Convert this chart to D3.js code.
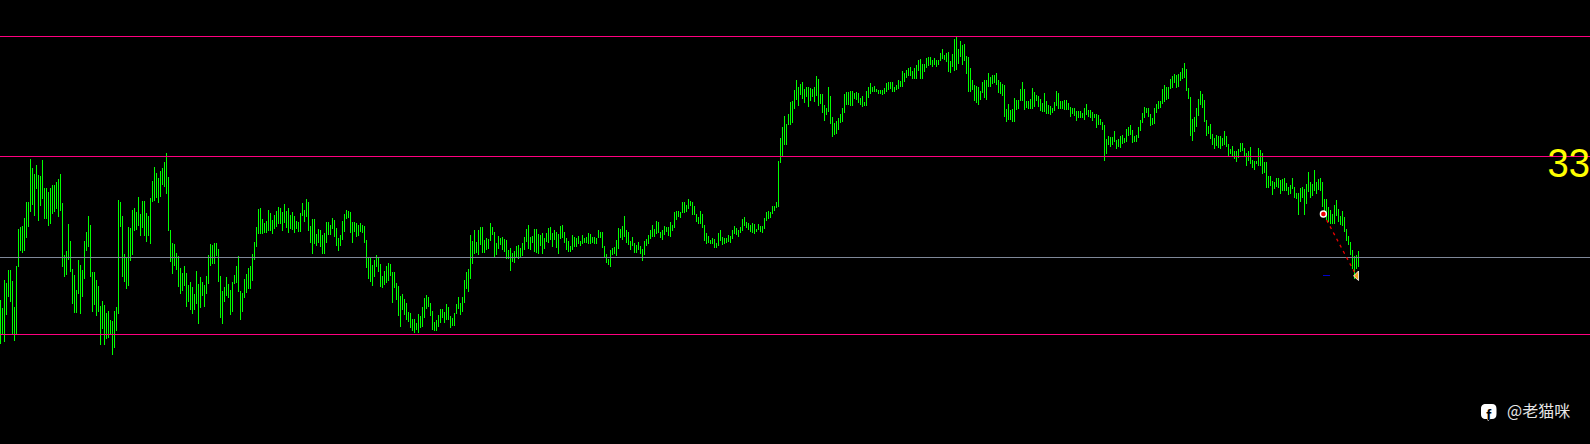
<!DOCTYPE html>
<html><head><meta charset="utf-8">
<style>html,body{margin:0;padding:0;background:#000;overflow:hidden}svg{display:block}</style>
<script src="https://cdn.jsdelivr.net/npm/d3@7/dist/d3.min.js"></script>
</head><body><div id="chart"></div>
<script>
const barHighs = [
144,136,164,161,174,174,163,137,178,215,
217,218,226,242,242,285,276,270,279,269,
268,284,256,256,252,256,259,259,262,265,
270,241,189,193,220,203,175,169,154,184,
179,174,203,212,228,219,172,172,164,158,
138,143,139,131,133,124,123,133,137,244,
242,228,190,187,217,216,234,236,232,247,
230,243,243,231,228,246,263,277,271,266,
273,276,282,291,267,214,201,200,191,188,
176,171,178,171,159,162,157,150,173,160,
167,162,159,168,189,200,199,201,201,195,
168,153,157,167,160,154,162,169,178,188,
153,151,165,170,176,178,190,202,217,235,
236,225,221,223,234,231,224,229,233,237,
236,232,240,233,236,229,232,228,223,222,
231,241,234,245,242,218,225,225,210,215,
214,209,211,222,222,219,226,224,216,206,
209,223,230,234,233,232,222,222,221,219,
221,219,218,204,187,187,179,184,189,187,
180,168,173,178,181,180,172,172,161,158,
148,150,145,141,132,131,125,125,121,130,
128,137,146,149,147,141,133,122,124,129,
135,135,132,140,137,128,126,131,140,147,
141,147,164,172,175,209,203,214,202,214,
217,217,204,206,205,221,217,212,201,208,
206,207,205,204,194,196,191,193,198,199,
196,201,207,215,219,207,208,215,215,210,
209,211,206,211,216,217,211,214,212,210,
218,219,212,206,203,198,209,207,206,208,
203,209,206,207,211,210,207,207,206,214,
212,212,198,190,185,194,196,197,204,216,
215,218,228,214,212,203,207,201,199,202,
198,195,203,205,209,214,219,215,223,222,
212,214,218,217,217,222,219,232,233,233,
232,242,242,239,245,243,242,238,230,227,
233,230,219,211,208,204,206,205,201,211,
214,207,206,206,209,208,214,218,216,214,
217,225,227,222,221,219,221,220,215,220,
218,218,226,232,233,232,238,238,242,283,
306,317,328,320,330,342,343,354,364,357,
360,362,355,357,357,356,355,357,368,365,
350,350,339,336,357,348,327,321,323,326,
330,336,350,352,352,353,353,351,352,351,
346,348,342,353,357,361,357,358,355,354,
354,354,356,361,362,362,362,357,359,364,
363,373,371,374,376,377,373,376,379,384,
385,380,380,386,387,387,384,386,384,384,
391,395,389,391,392,383,390,405,408,395,
403,399,400,388,387,376,364,359,358,357,
353,362,364,364,371,367,369,369,371,364,
362,360,359,335,340,334,335,346,344,344,
355,362,355,343,343,345,356,352,349,348,
345,341,351,343,339,338,336,342,353,351,
343,343,344,344,341,337,336,336,333,333,
333,331,336,340,334,334,332,330,330,329,
325,322,319,305,308,307,307,313,304,305,
308,309,306,315,317,319,314,308,309,317,
324,331,337,336,336,330,326,336,340,343,
343,355,359,357,357,365,368,370,369,370,
372,376,381,375,356,347,325,327,336,345,
353,350,344,324,318,320,310,306,309,308,
308,306,313,308,300,295,298,293,293,295,
301,301,296,291,293,297,284,283,283,296,
294,291,282,282,268,268,263,262,266,266,
264,265,266,261,257,259,266,257,251,251,
256,257,255,260,272,262,260,274,262,265,
266,262,245,245,237,234,230,239,244,235,
228,233,227,215,208,202,194,188,189,193];
const barLows = [
100,109,102,129,147,142,110,103,109,177,
193,191,193,206,217,232,239,228,255,223,
238,245,225,225,218,220,230,232,235,227,
233,177,167,169,184,172,140,131,131,150,
130,147,165,193,197,167,132,139,128,132,
99,115,99,105,106,109,89,96,113,130,
217,167,162,155,158,183,189,213,214,218,
208,216,208,202,208,200,242,243,246,241,
247,259,257,250,213,182,170,178,174,157,
150,153,158,137,142,134,130,134,140,120,
136,148,137,150,160,178,180,180,188,162,
126,120,142,148,146,129,132,160,161,152,
124,132,146,151,155,155,163,184,197,210,
210,210,211,211,213,213,210,215,217,220,
220,213,221,216,211,215,214,211,215,212,
212,228,222,227,213,201,190,200,198,201,
197,190,190,201,209,209,215,207,198,193,
198,204,212,225,226,211,201,212,207,208,
212,211,201,176,165,162,158,167,177,172,
157,156,159,161,163,168,141,156,144,128,
117,134,129,124,122,116,113,111,114,111,
116,117,126,135,137,128,114,113,113,117,
121,126,121,124,124,116,118,118,130,135,
129,132,141,155,152,165,180,190,191,189,
199,191,191,194,195,203,209,186,189,195,
199,194,192,185,185,173,182,181,186,185,
187,188,194,202,195,194,201,192,191,190,
198,190,195,202,201,204,197,204,196,190,
205,206,201,194,192,192,194,197,197,200,
198,200,201,201,200,200,201,200,200,206,
206,196,186,181,179,177,189,190,188,195,
206,204,207,201,199,194,198,191,191,194,
190,183,189,198,200,205,207,207,210,211,
206,204,209,212,208,207,213,216,224,227,
226,231,231,232,235,238,229,229,222,220,
220,216,203,200,201,200,200,196,196,198,
203,199,200,201,202,201,205,210,209,207,
211,213,218,216,214,212,211,210,212,214,
212,211,215,223,225,226,230,233,236,237,
281,287,299,299,319,319,321,335,344,338,
349,345,341,347,337,343,347,342,348,338,
340,331,323,329,332,320,307,309,310,314,
321,322,331,339,339,338,338,345,344,341,
339,337,338,338,346,350,352,352,352,350,
350,349,350,352,354,355,352,352,354,355,
357,357,362,366,368,368,365,365,365,373,
365,365,372,376,378,379,377,379,377,379,
383,385,384,382,372,371,377,373,374,380,
387,379,383,370,352,352,354,343,341,339,
344,351,346,344,357,357,360,361,359,351,
350,348,327,322,324,324,322,322,334,335,
343,343,334,336,335,335,335,337,343,337,
333,332,332,330,330,329,331,333,338,335,
335,335,334,334,334,327,330,328,323,326,
326,326,324,329,327,326,323,326,316,319,
319,314,283,290,299,297,299,302,295,297,
296,300,301,302,308,309,301,302,302,306,
313,321,326,331,327,318,319,320,331,335,
336,340,342,344,345,355,356,361,356,357,
363,365,366,353,345,308,303,312,317,328,
339,336,322,308,310,305,299,295,298,296,
295,298,299,297,288,290,288,285,282,286,
292,293,288,278,283,280,276,274,280,278,
278,270,271,256,256,258,249,255,257,256,
250,253,253,253,249,250,255,246,245,229,
242,246,229,240,252,246,248,253,250,254,
253,237,228,224,222,220,220,220,228,222,
219,218,212,203,199,189,175,165,175,177];
const pinkLevels = [407.5, 287.5, 109.5];
const grayLevels = [186.5];
const tradeIndex = [661.7, 678];
const tradePrice = [230, 169];
const pendingIndex = [661.5, 665];
const pendingPrice = [169, 169];
const priceLabel = "33";
const watermark = "@老猫咪";

const W = 1590, H = 444;
const x = d3.scaleLinear().domain([0, 795]).range([0, W]);
const y = d3.scaleLinear().domain([0, 444]).range([H, 0]);
const svg = d3.select("#chart").append("svg").attr("width", W).attr("height", H).style("background", "#000");

svg.append("g").attr("stroke", "#00ff00").attr("stroke-width", 1).attr("shape-rendering", "crispEdges")
  .selectAll("line").data(barHighs).join("line")
  .attr("x1", (d, i) => x(i) + 0.5).attr("x2", (d, i) => x(i) + 0.5)
  .attr("y1", d => y(d)).attr("y2", (d, i) => y(barLows[i]));

const level = (vals, color) => svg.append("g").attr("stroke", color).attr("shape-rendering", "crispEdges")
  .selectAll("line").data(vals).join("line")
  .attr("x1", 0).attr("x2", W).attr("y1", d => y(d)).attr("y2", d => y(d));
level(grayLevels, "#7f8899");
level(pinkLevels, "#ff0080");

svg.append("line").attr("stroke", "#ee0000").attr("stroke-width", 1.3).attr("stroke-dasharray", "3 4")
  .attr("x1", x(tradeIndex[0])).attr("y1", y(tradePrice[0]))
  .attr("x2", x(tradeIndex[1])).attr("y2", y(tradePrice[1]));

svg.append("line").attr("stroke", "#0000cc").attr("shape-rendering", "crispEdges")
  .attr("x1", x(pendingIndex[0])).attr("x2", x(pendingIndex[1]))
  .attr("y1", y(pendingPrice[0]) + 0.5).attr("y2", y(pendingPrice[0]) + 0.5);

svg.append("circle").attr("cx", x(tradeIndex[0])).attr("cy", y(tradePrice[0]))
  .attr("r", 3).attr("fill", "#ee0000").attr("stroke", "#fff").attr("stroke-width", 1.4);

const ex = x(tradeIndex[1]), ey = y(tradePrice[1]);
svg.append("path").attr("fill", "#f0a020").attr("stroke", "#fff").attr("stroke-width", 0.8)
  .attr("d", `M${ex - 2.5},${ey + 1}L${ex + 2.5},${ey - 4}L${ex + 2.5},${ey + 5.5}Z`);

svg.append("text").attr("x", 1547.5).attr("y", 177).attr("fill", "#ffff00")
  .attr("font-family", "Liberation Sans, sans-serif").attr("font-size", 41)
  .attr("textLength", 42.5).attr("lengthAdjust", "spacingAndGlyphs").text(priceLabel);

const icon = svg.append("g").attr("transform", "translate(1481,404)");
icon.append("path").attr("fill", "#fff")
  .attr("d", "M5,0H11C14,0 15.5,1.5 15.5,5V10C15.5,13.5 14,15 11,15H9.5L7,17L6,15H5C1.5,15 0,13.5 0,10V5C0,1.5 1.5,0 5,0Z");
icon.append("text").attr("x", 5.2).attr("y", 15.5).attr("fill", "#000").attr("font-family", "Liberation Sans, sans-serif")
  .attr("font-weight", "bold").attr("font-size", 15).text("f");

svg.append("text").attr("x", 1507).attr("y", 417).attr("fill", "#e6e6e6")
  .attr("font-family", "Noto Sans CJK SC, sans-serif").attr("font-size", 16).text(watermark);
</script></body></html>
